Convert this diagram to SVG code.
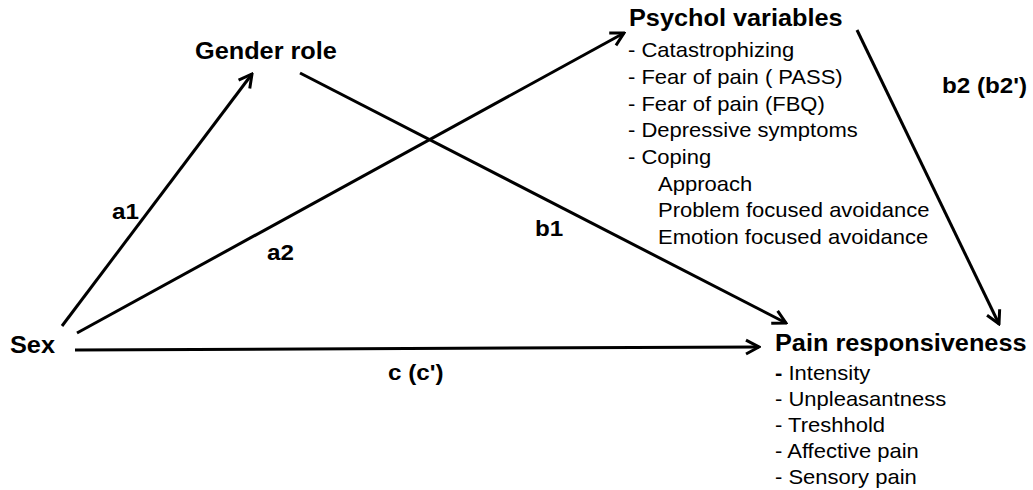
<svg xmlns="http://www.w3.org/2000/svg" width="1033" height="490" viewBox="0 0 1033 490">
<style>
  .t { font-family: "Liberation Sans", Arial, sans-serif; fill: #000; }
  .title { font-size: 23px; font-weight: bold; }
  .lbl { font-size: 22px; font-weight: bold; }
  .item { font-size: 20px; }
  .conn { stroke: #000; stroke-width: 3; fill: none; marker-end: url(#arr); }
</style>
<defs>
  <marker id="arr" markerUnits="userSpaceOnUse" viewBox="-16 -10 18 20" refX="0" refY="0" markerWidth="18" markerHeight="20" orient="auto">
    <path d="M-13,-7 L0,0 L-13,7" fill="none" stroke="#000" stroke-width="3"/>
  </marker>
</defs>
<rect width="1033" height="490" fill="#fff"/>
<g id="connectors">
  <line class="conn" x1="62" y1="326" x2="252" y2="74"/>
  <line class="conn" x1="77" y1="333" x2="624" y2="33"/>
  <line class="conn" x1="300" y1="73" x2="786" y2="323"/>
  <line class="conn" x1="75" y1="350" x2="759" y2="347"/>
  <line class="conn" x1="857" y1="30" x2="999" y2="324"/>
</g>
<g id="labels">
  <text class="t lbl" transform="matrix(1.1 0 0 1 112 219)">a1</text>
  <text class="t lbl" transform="matrix(1.1 0 0 1 267 260)">a2</text>
  <text class="t lbl" transform="matrix(1.1 0 0 1 535 236)">b1</text>
  <text class="t lbl" transform="matrix(1.1 0 0 1 388 380)">c (c')</text>
  <text class="t lbl" transform="matrix(1.1 0 0 1 942 93)">b2 (b2')</text>
</g>
<g id="sex">
  <text class="t title" transform="matrix(1.1 0 0 1 10 353)">Sex</text>
</g>
<g id="gender-role">
  <text class="t title" transform="matrix(1.1 0 0 1 195 59)">Gender role</text>
</g>
<g id="psychol-variables">
  <text class="t title" transform="matrix(1.1 0 0 1 629 26)">Psychol variables</text>
  <text class="t item" transform="matrix(1.1 0 0 1 628 57)">- Catastrophizing</text>
  <text class="t item" transform="matrix(1.1 0 0 1 628 84)">- Fear of pain ( PASS)</text>
  <text class="t item" transform="matrix(1.1 0 0 1 628 111)">- Fear of pain (FBQ)</text>
  <text class="t item" transform="matrix(1.1 0 0 1 628 137)">- Depressive symptoms</text>
  <text class="t item" transform="matrix(1.1 0 0 1 628 164)">- Coping</text>
  <text class="t item" transform="matrix(1.1 0 0 1 658 191)">Approach</text>
  <text class="t item" transform="matrix(1.1 0 0 1 658 217)">Problem focused avoidance</text>
  <text class="t item" transform="matrix(1.1 0 0 1 658 244)">Emotion focused avoidance</text>
</g>
<g id="pain-responsiveness">
  <text class="t title" transform="matrix(1.1 0 0 1 775 351)">Pain responsiveness</text>
  <text class="t item" transform="matrix(1.1 0 0 1 775 380)"><tspan font-weight="bold">-</tspan> Intensity</text>
  <text class="t item" transform="matrix(1.1 0 0 1 775 406)">- Unpleasantness</text>
  <text class="t item" transform="matrix(1.1 0 0 1 775 432)">- Treshhold</text>
  <text class="t item" transform="matrix(1.1 0 0 1 775 458)">- Affective pain</text>
  <text class="t item" transform="matrix(1.1 0 0 1 775 484)">- Sensory pain</text>
</g>
</svg>
